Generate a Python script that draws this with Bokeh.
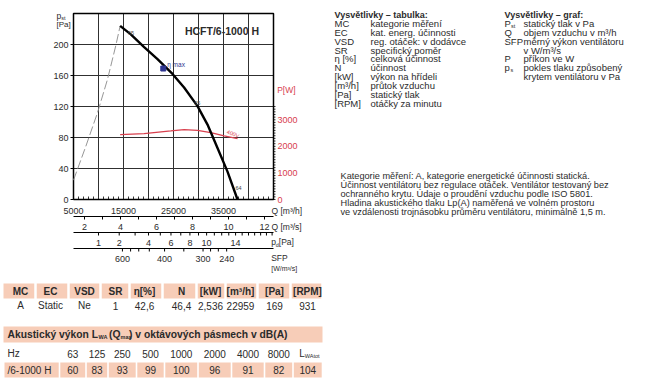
import numpy as np
from bokeh.plotting import figure
from bokeh.models import Range1d
from bokeh.core.properties import value
from bokeh.embed import file_html
from bokeh.resources import INLINE

FONT = "Liberation Sans"
TXT = "#2b2b2b"
RED = "#d8404e"
BLUE = "#2f3590"
PEACH = "#f7cdb8"

# ------------------------------------------------------------------ data
model_name = "HCFT/6-1000 H"
q_fan = [14330, 16460, 19130, 21800, 24800, 27120, 29800, 31800, 33800, 35800, 37800]
p_fan = [224, 213, 196.5, 181, 162, 144.5, 120.5, 96.7, 66.4, 36, 0]
q_stall = [5000, 7460, 9800, 11800, 13460, 14330]
p_stall = [25, 68.5, 112, 155, 198.6, 224]
q_power = [14330, 19130, 24460, 27130, 29800, 32460, 35130, 37800]
p_power = [2444, 2481, 2579, 2632, 2605, 2519, 2391, 2293]
eta_max_q = [22959]
eta_max_p = [169]
eta_lbl = ["65", "65", "64"]
eta_lbl_q = [16500, 29740, 38000]
eta_lbl_p = [215, 124, 15]
voltage_lbl = "400V"

q_range = (5000, 45000)
p_range = (0, 240)
pw_range = (0, 7000)
q_grid = list(range(5000, 45001, 5000))
p_grid = list(range(0, 241, 40))
q_tick_labels = [5000, 15000, 25000, 35000]
q_minor = list(range(5000, 45001, 1000))
pst_ticks = [0, 40, 80, 120, 160, 200]
pw_ticks = [0, 1000, 2000, 3000]
pw_minor = list(range(0, 3501, 100))
qs_ticks = [2, 4, 6, 8, 10, 12]
qs_minor = list(range(2, 13))
pd_ticks = [1, 2, 4, 6, 8, 10, 14]
pd_minor = list(range(1, 21))
sfp_ticks = [600, 400, 300, 240]
sfp_minor = [550, 500, 450, 350, 280, 260]
PD_REF_Q = 10000.0  # flow (m3/h) at which the dynamic pressure is 1 Pa

tab1_head = ["MC", "EC", "VSD", "SR", "η[%]", "N", "[kW]", "[m³/h]", "[Pa]", "[RPM]"]
tab1_vals = ["A", "Static", "Ne", "1", "42,6", "46,4", "2,536", "22959", "169", "931"]
oct_hz = ["63", "125", "250", "500", "1000", "2000", "4000", "8000"]
oct_lwa = [60, 83, 93, 99, 100, 96, 91, 82]
lwa_tot = 104
row_name = "/6-1000 H"

leg_tab_title = "Vysvětlivky – tabulka:"
leg_tab_keys = ["MC", "EC", "VSD", "SR", "η [%]", "N", "[kW]", "[m³/h]", "[Pa]", "[RPM]"]
leg_tab_vals = ["kategorie měření", "kat. energ. účinnosti", "reg. otáček: v dodávce",
                "specifický poměr", "celková účinnost", "účinnost", "výkon na hřídeli",
                "průtok vzduchu", "statický tlak", "otáčky za minutu"]
leg_graf_title = "Vysvětlivky – graf:"
leg_graf_vals = ["statický tlak v Pa", "objem vzduchu v m³/h", "měrný výkon ventilátoru",
                 "v W/m³/s", "příkon ve W", "pokles tlaku způsobený",
                 "krytem ventilátoru v Pa"]
note_lines = ["Kategorie měření: A, kategorie energetické účinnosti statická.",
              "Účinnost ventilátoru bez regulace otáček. Ventilátor testovaný bez",
              "ochranného krytu. Údaje o proudění vzduchu podle ISO 5801.",
              "Hladina akustického tlaku Lp(A) naměřená ve volném prostoru",
              "ve vzdálenosti trojnásobku průměru ventilátoru, minimálně 1,5 m."]

# ------------------------------------------------------------------ page <-> data layout
W, H = 648, 388
BOX_L, BOX_R, BOX_T, BOX_B = 73, 273, 13, 199      # chart box on the page (px)
SX = (q_range[1] - q_range[0]) / (BOX_R - BOX_L)
SY = (p_range[1] - p_range[0]) / (BOX_B - BOX_T)


def X(px):
    return q_range[0] + (px - BOX_L) * SX


def Y(py):
    return p_range[1] - (py - BOX_T) * SY


def PW(v):  # power scale -> chart units
    return np.asarray(v, dtype=float) * (p_range[1] - p_range[0]) / (pw_range[1] - pw_range[0])


p = figure(width=W, height=H, x_range=Range1d(X(0), X(W)), y_range=Range1d(Y(H), Y(0)),
           output_backend="svg", toolbar_location=None, min_border=0,
           x_axis_type=None, y_axis_type=None)
p.title.visible = False
p.outline_line_color = None


def T(xs, ys, texts, size, bold=False, align="left", color=TXT, angle=0.0):
    p.text(x=xs, y=ys, text=texts, text_font=value(FONT), text_font_size=value(size),
           text_font_style="bold" if bold else "normal", text_align=align,
           text_baseline="middle", text_color=color, angle=angle)


def TP(pxs, pys, texts, size, **kw):  # text placed in page pixels
    T([X(v) for v in pxs], [Y(v) for v in pys], texts, size, **kw)


def vseg(xs, y0, y1, color="black", width=1.0):
    p.segment(x0=list(xs), y0=[y0] * len(xs), x1=list(xs), y1=[y1] * len(xs),
              line_color=color, line_width=width)


# ---- left axis (p_st)
p.segment(x0=[X(BOX_L - 3)] * len(pst_ticks), y0=pst_ticks, x1=[q_range[0]] * len(pst_ticks),
          y1=pst_ticks, line_color="black", line_width=1)
T([X(BOX_L - 5)] * len(pst_ticks), pst_ticks, [str(v) for v in pst_ticks], "9px", align="right")
TP([56], [15], ["p"], "8.5px")
TP([60.8], [17.6], ["st"], "5.5px")
TP([56], [24], ["[Pa]"], "8px")

# ---- right axis (P [W])
pw_minor_y = PW(pw_minor)
p.segment(x0=[q_range[1]] * len(pw_minor), y0=pw_minor_y, x1=[X(BOX_R + 2)] * len(pw_minor),
          y1=pw_minor_y, line_color="black", line_width=0.8)
T([X(BOX_R + 4)] * len(pw_ticks), list(PW(pw_ticks)), [str(v) for v in pw_ticks], "9px", color=RED)
TP([276.7], [89.3], ["P[W]"], "8.5px", color=RED)

# ---- main Q [m3/h] axis
vseg(q_minor, p_range[0], Y(BOX_B - 3), width=0.8)
T(q_tick_labels, [Y(210)] * len(q_tick_labels), [str(v) for v in q_tick_labels], "9px", align="center")
TP([271], [210], ["Q [m³/h]"], "8.5px")


def low_axis(line_py, pos, minor_pos, labels, lab_py):
    p.segment(x0=[q_range[0]], y0=[Y(line_py)], x1=[q_range[1]], y1=[Y(line_py)],
              line_color="black", line_width=1)
    vseg(minor_pos, Y(line_py), Y(line_py + 3), width=1)
    T(list(pos), [Y(lab_py)] * len(pos), labels, "9px", align="center")


# Q [m3/s]
low_axis(216, [v * 3600 for v in qs_ticks], [v * 3600 for v in qs_minor],
         [str(v) for v in qs_ticks], 226)
TP([271], [226.5], ["Q [m³/s]"], "8.5px")

# dynamic pressure p_d
pd_pos = [PD_REF_Q * np.sqrt(v) for v in pd_ticks]
pd_minor_pos = [PD_REF_Q * np.sqrt(v) for v in pd_minor if PD_REF_Q * np.sqrt(v) <= q_range[1]]
low_axis(232, pd_pos, pd_minor_pos, [str(v) for v in pd_ticks], 242)
TP([270.7], [241.8], ["p"], "8.5px")
TP([275.3], [244.2], ["d"], "5.5px")
TP([278.3], [241.8], ["[Pa]"], "8.5px")

# SFP scale (from the power curve)
sfp_curve = 3600.0 * np.array(p_power) / np.array(q_power)
q_arr = np.array(q_power, dtype=float)
sfp_pos = [float(np.interp(v, sfp_curve[::-1], q_arr[::-1])) for v in sfp_ticks]
sfp_minor_pos = [float(np.interp(v, sfp_curve[::-1], q_arr[::-1])) for v in sfp_minor]
low_axis(248, sfp_pos, sfp_pos + sfp_minor_pos, [str(v) for v in sfp_ticks], 258)
TP([270.7], [257], ["SFP"], "8.5px")
TP([270.7], [268], ["[W/m³/s]"], "7px")

# ---- legends on the right
step = 8.86
TP([334, 504], [14, 14], [leg_tab_title, leg_graf_title], "9px", bold=True)
ys_tab = [23 + step * i for i in range(len(leg_tab_keys))]
TP([334] * len(leg_tab_keys), ys_tab, leg_tab_keys, "9.5px")
TP([370] * len(leg_tab_vals), ys_tab, leg_tab_vals, "9.5px")
ys_graf = [23 + step * i for i in range(len(leg_graf_vals))]
TP([523] * len(leg_graf_vals), ys_graf, leg_graf_vals, "9.5px")
TP([504] * 5, [ys_graf[0], ys_graf[1], ys_graf[2], ys_graf[4], ys_graf[5]],
   ["P", "Q", "SFP", "P", "p"], "9.5px")
TP([510.5, 510], [ys_graf[0] + 2.2, ys_graf[5] + 2.2], ["st", "s"], "5.5px")
TP([340] * len(note_lines), [175 + 9 * i for i in range(len(note_lines))], note_lines, "9.2px")

# ---- table 1
t1_edges = [0, 35, 68, 100, 129, 162, 196, 225, 257, 290, 322]
t1_cx = [20, 50, 84, 115, 144, 181, 210, 240, 274, 307]
gap = 1.25
p.quad(left=[X(t1_edges[0] + 3)] + [X(e + gap) for e in t1_edges[1:-1]],
       right=[X(e - gap) for e in t1_edges[1:]],
       top=[Y(283)] * len(tab1_head), bottom=[Y(298)] * len(tab1_head),
       fill_color=PEACH, line_color=None)
TP(t1_cx, [290.5] * len(tab1_head), tab1_head, "10px", bold=True, align="center")
TP(t1_cx, [305] * len(tab1_vals), tab1_vals, "10px", align="center")

# ---- table 2 (acoustic power)
p.quad(left=[X(3)], right=[X(322)], top=[Y(326)], bottom=[Y(342)], fill_color=PEACH, line_color=None)
TP([7], [334], ["Akustický výkon L"], "10.3px", bold=True)
TP([98], [336.5], ["WA"], "5.5px", bold=True)
TP([108.5], [334], ["(Q"], "10.3px", bold=True)
TP([120], [336.5], ["max"], "5.5px", bold=True)
TP([128.5], [334], [") v oktávových pásmech v dB(A)"], "10.3px", bold=True)

t2_edges = [4, 59, 85.5, 107.5, 136, 164, 197.5, 231, 264, 292.5, 322]
g2 = 0.8
t2_left = [t2_edges[0]] + [e + g2 for e in t2_edges[1:-1]]
t2_right = [e - g2 for e in t2_edges[1:]]
t2_cx = [(a + b) / 2 for a, b in zip(t2_edges[1:-1], t2_edges[2:])]
p.quad(left=[X(v) for v in t2_left], right=[X(v) for v in t2_right],
       top=[Y(362)] * 10, bottom=[Y(377)] * 10, fill_color=PEACH, line_color=None)
TP([7], [353], ["Hz"], "10px")
TP(t2_cx[:8], [353] * 8, oct_hz, "10px", align="center")
TP([t2_cx[8] - 8.5], [353], ["L"], "10px")
TP([t2_cx[8] - 3], [355], ["WAtot"], "5.5px")
TP([7], [369.5], [row_name], "10px")
TP(t2_cx, [369.5] * 9, [str(v) for v in oct_lwa] + [str(lwa_tot)], "10px", align="center")

# ---- chart grid and box (drawn late), then the curves on top
vseg(q_grid, p_range[0], p_range[1], color="#303030", width=1.0)
p.segment(x0=[q_range[0]] * len(p_grid), y0=p_grid, x1=[q_range[1]] * len(p_grid), y1=p_grid,
          line_color="#303030", line_width=1.0)
p.multi_line(xs=[[q_range[0], q_range[1], q_range[1], q_range[0], q_range[0]]],
             ys=[[p_range[0], p_range[0], p_range[1], p_range[1], p_range[0]]],
             line_color="black", line_width=1.5)

p.line(q_stall, p_stall, line_color="#8a8a8a", line_width=0.9, line_dash="9 3")
p.line(q_power, list(PW(p_power)), line_color=RED, line_width=1.3)
p.line(q_fan, p_fan, line_color="black", line_width=2.4)
p.scatter(eta_max_q, eta_max_p, marker="square", size=5, color=BLUE)
T(eta_lbl_q, eta_lbl_p, eta_lbl, "5.5px", align="center", color="#444444")
T([23740], [173.8], ["η max"], "6.5px", color=BLUE)
T([36900], [84.8], [voltage_lbl], "5.5px", align="center", color=RED, angle=-0.38)
T([34700], [218], [model_name], "10.5px", bold=True, align="center")

open("out.html", "w").write(file_html(p, INLINE))
